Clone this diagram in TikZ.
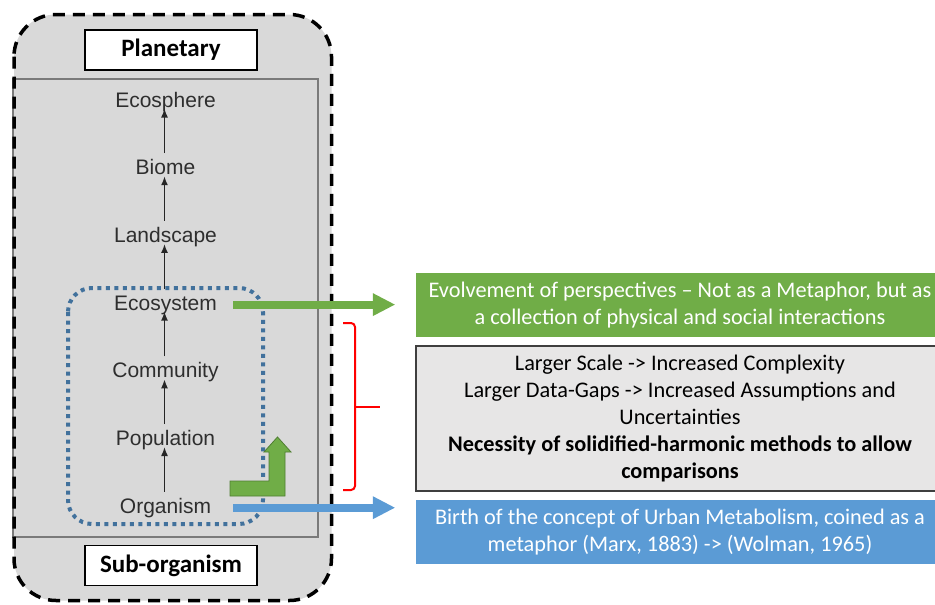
\documentclass[tikz,border=0pt]{standalone}
\usepackage{fontspec}
\setmainfont{Carlito}
\newfontfamily\labelfont{Liberation Sans}
\usetikzlibrary{arrows.meta,calc}

\definecolor{panelgray}{HTML}{D9D9D9}
\definecolor{framegray}{HTML}{7A7A7A}
\definecolor{dotblue}{HTML}{41719C}
\definecolor{leafgreen}{HTML}{70AD47}
\definecolor{leafgreendk}{HTML}{507E32}
\definecolor{skyblue}{HTML}{5B9BD5}
\definecolor{boxgray}{HTML}{E7E6E6}
\definecolor{boxedge}{HTML}{3F3F3F}
\definecolor{labelgray}{HTML}{2E2E2E}

\tikzset{
  level/.style={font=\labelfont\fontsize{21}{24}\selectfont, text=labelgray,
    inner sep=0pt, text height=15pt, text depth=4pt, anchor=base},
  uparrow/.style={draw=black!85, line width=1.6pt, -{Latex[length=9pt,width=7pt]}},
  tagbox/.style={draw=black, line width=1.2pt, fill=white, inner sep=0pt,
    minimum width=172pt, minimum height=40pt,
    font=\fontsize{25}{28}\selectfont\bfseries},
  infobox/.style={inner sep=0pt, minimum width=528pt, align=center,
    font=\fontsize{22.3}{27}\selectfont},
  fatarrow/.style={line width=8pt, -{Triangle[length=22pt,width=23pt,line width=0pt]}},
  bracket/.style={draw=red, line width=2pt},
}

\begin{document}
\begin{tikzpicture}[x=1pt,y=-1pt]
\useasboundingbox (0,0) rectangle (935,605);

% grey panel behind the hierarchy
\fill[panelgray, rounded corners=42pt] (14,14.5) rectangle (331.5,600.5);
\draw[framegray, line width=1.3pt, fill=panelgray] (13,79) rectangle (318,537);
\draw[black, line width=3.5pt, dash pattern=on 12pt off 8pt, rounded corners=42pt]
  (14,14.5) rectangle (331.5,600.5);

% scale tags
\node[tagbox] (planetary) at (171,50) {Planetary};
\node[tagbox] (suborganism) at (171,565.5) {Sub-organism};

% levels of organisation
\node[level] (ecosphere)  at (165.5,107)   {Ecosphere};
\node[level] (biome)      at (165.5,174.7) {Biome};
\node[level] (landscape)  at (165.5,242.4) {Landscape};
\node[level] (ecosystem)  at (165.5,310.1) {Ecosystem};
\node[level] (community)  at (165.5,377.8) {Community};
\node[level] (population) at (165.5,445.5) {Population};
\node[level] (organism)   at (165.5,513.2) {Organism};

\foreach \lo/\hi in {biome/ecosphere, landscape/biome, ecosystem/landscape,
                     community/ecosystem, population/community, organism/population}
  \draw[uparrow] ([xshift=-1pt,yshift=21.5pt]\lo.base) -- ([xshift=-1pt,yshift=-1.5pt]\hi.base);

% urban-metabolism scope
\draw[dotblue, line width=4pt, dash pattern=on 4pt off 4.5pt, rounded corners=24pt]
  (68,288) rectangle (263,524);

% bent "scaling up" arrow
\draw[leafgreendk, fill=leafgreen, line width=0.8pt]
  (230,481) -- (269,481) -- (269,452) -- (264,452) -- (277.5,437) -- (291,452)
  -- (285,452) -- (285,496) -- (230,496) -- cycle;

% statement boxes
\node[infobox, fill=leafgreen, text=white, minimum height=64pt] (greenbox) at (680,305)
  {Evolvement of perspectives -- Not as a Metaphor, but as\\ a collection of physical and social interactions};
\node[infobox, fill=boxgray, draw=boxedge, line width=1.2pt, minimum height=145pt] (graybox) at (680,418.5)
  {Larger Scale -> Increased Complexity\\
   Larger Data-Gaps -> Increased Assumptions and\\
   Uncertainties\\
   \textbf{Necessity of solidified-harmonic methods to allow}\\
   \textbf{comparisons}};
\node[infobox, fill=skyblue, text=white, minimum height=64pt] (bluebox) at (680,532)
  {Birth of the concept of Urban Metabolism, coined as a\\ metaphor (Marx, 1883) -> (Wolman, 1965)};

% links from levels to statements
\path (greenbox.west |- ecosystem.east) coordinate (greenin);
\path (bluebox.west |- organism.east) coordinate (bluein);
\draw[fatarrow, leafgreen] ([xshift=16pt]ecosystem.east) -- ([xshift=-21pt]greenin);
\draw[fatarrow, skyblue] ([xshift=22pt]organism.east) -- ([xshift=-21pt]bluein);

% bracket spanning the intermediate scales
\draw[bracket, rounded corners=4pt] (343,323) -| (355,490) -- (343,490);
\draw[bracket] (355,407) -- (380,407);
\end{tikzpicture}
\end{document}
